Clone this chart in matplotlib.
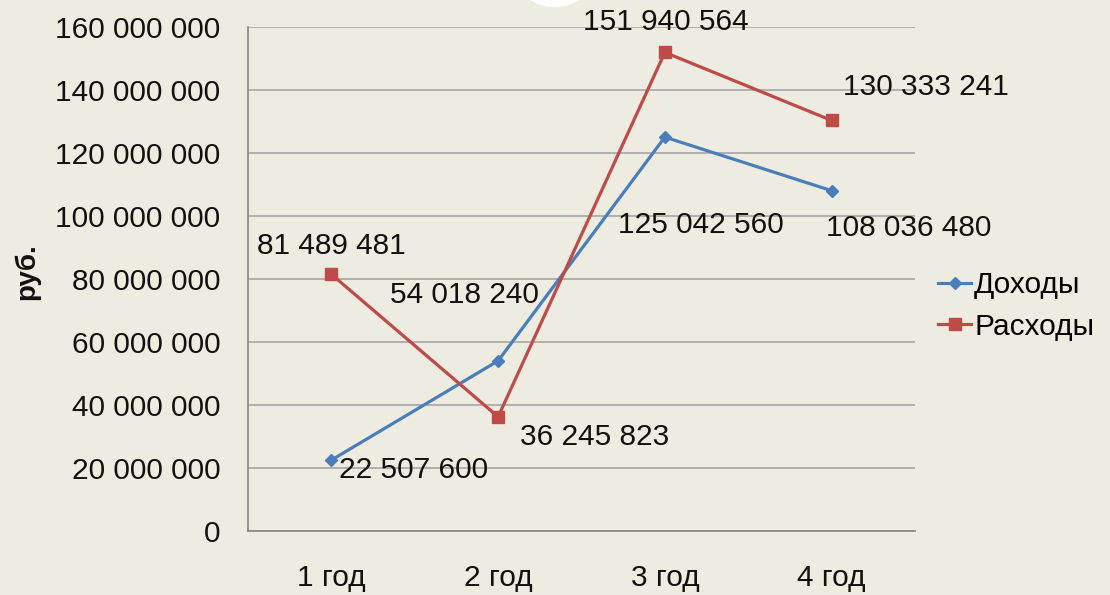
import matplotlib
matplotlib.use("Agg")
import matplotlib.pyplot as plt
from matplotlib.patches import Ellipse
from matplotlib.ticker import FuncFormatter

plt.rcParams['font.family'] = ['Liberation Sans', 'DejaVu Sans']

categories = ["1 год", "2 год", "3 год", "4 год"]
income = [22507600, 54018240, 125042560, 108036480]
expenses = [81489481, 36245823, 151940564, 130333241]
series_names = ["Доходы", "Расходы"]
y_label = "руб."

# label offsets (pixels) and alignment for each point
income_label_pos = [((8, -10), 'left', 'center'), ((-34, 66), 'center', 'center'),
                    ((36, -88), 'center', 'center'), ((-6, -37), 'left', 'center')]
expense_label_pos = [((0, 28), 'center', 'center'), ((22, -20), 'left', 'center'),
                     ((1, 30), 'center', 'center'), ((11, 33), 'left', 'center')]

bg = '#EEEBE1'
blue = '#4A7EBB'
red = '#BE4B48'
FS = 21.5

fig = plt.figure(figsize=(11.1, 5.95), dpi=100, facecolor=bg)
ax = fig.add_axes([248 / 1110, 1 - 531 / 595, 667 / 1110, 504 / 595])
ax.set_facecolor(bg)

x = list(range(len(categories)))
ax.plot(x, income, color=blue, lw=2.3, marker='D', ms=6, label=series_names[0], zorder=3)
ax.plot(x, expenses, color=red, lw=2.3, marker='s', ms=8, label=series_names[1], zorder=3)

def fmt(v):
    return f"{int(v):,}".replace(",", " ")

for xi, v, (off, ha, va) in zip(x, income, income_label_pos):
    ax.annotate(fmt(v), (xi, v), xytext=off, textcoords='offset pixels',
                ha=ha, va=va, fontsize=FS, color='#111111', zorder=4)
for xi, v, (off, ha, va) in zip(x, expenses, expense_label_pos):
    ax.annotate(fmt(v), (xi, v), xytext=off, textcoords='offset pixels',
                ha=ha, va=va, fontsize=FS, color='#111111', zorder=4)

ax.set_xlim(-0.5, len(categories) - 0.5)
ax.set_ylim(0, 160000000)
ax.set_yticks(range(0, 160000001, 20000000))
ax.yaxis.set_major_formatter(FuncFormatter(lambda v, p: fmt(v)))
ax.set_xticks(x)
ax.set_xticklabels(categories)
ax.tick_params(axis='y', labelsize=FS, length=0, pad=20, labelcolor='#111111')
ax.tick_params(axis='x', labelsize=FS, length=0, pad=24, labelcolor='#111111')
ax.grid(axis='y', color='#A6A6A6', lw=1.2)
ax.set_axisbelow(True)
for s in ['top', 'right']:
    ax.spines[s].set_visible(False)
for s in ['left', 'bottom']:
    ax.spines[s].set_color('#8C8C8C')
    ax.spines[s].set_linewidth(1.3)

fig.text(27 / 1110, 1 - 272 / 595, y_label, rotation=90, fontsize=20, fontweight='bold',
         ha='center', va='center', color='#111111')

leg = ax.legend(loc='center left', bbox_to_anchor=(1.035, 0.446), frameon=False,
                fontsize=FS, handlelength=1.1, handletextpad=0.1, labelspacing=0.45,
                borderaxespad=0, borderpad=0)

fig.patches.append(Ellipse((555 / 1110, 1 + 41 / 595), width=96 / 1110, height=96 / 595,
                           transform=fig.transFigure, facecolor='white', edgecolor='none'))

fig.savefig("out.png", dpi=100, facecolor=bg)
